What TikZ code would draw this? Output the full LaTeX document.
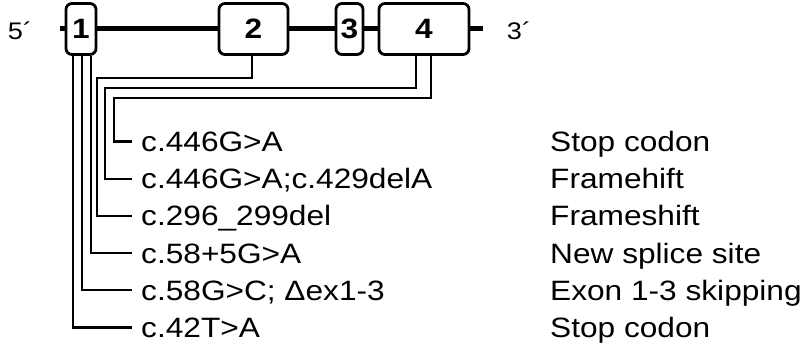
\documentclass[tikz,border=0pt]{standalone}
\usepackage{fontspec}
\setmainfont[FakeStretch=1.13]{Liberation Sans}
\begin{document}
\begin{tikzpicture}[x=1pt,y=-1pt,
    exon/.style={draw,line width=2.8pt,rounded corners=6pt,minimum height=51pt,
      inner sep=0pt,font=\fontsize{28}{30}\selectfont\bfseries},
    backbone/.style={line width=5pt},
    lead/.style={line width=2.2pt},
    mut/.style={anchor=west,inner xsep=9pt,inner ysep=0pt,text height=20pt,text depth=0pt,
      font=\fontsize{28}{30}\selectfont},
    eff/.style={anchor=west,inner sep=0pt,text height=20pt,text depth=0pt,
      font=\fontsize{28}{30}\selectfont},
    prime/.style={font=\fontsize{24}{26}\selectfont}]
  \useasboundingbox (0,0) rectangle (808,344);
  % exons
  \node[exon,minimum width=30pt] (e1) at (81,29) {1};
  \node[exon,minimum width=69pt] (e2) at (253.5,29) {2};
  \node[exon,minimum width=27pt] (e3) at (349.5,29) {3};
  \node[exon,minimum width=90pt] (e4) at (424,29) {4};
  \node[prime] (p5) at (20,31) {5´};
  \node[prime] (p3) at (519,31) {3´};
  % backbone
  \coordinate (s5) at (60,29);
  \coordinate (s3) at (483,29);
  \draw[backbone] (s5) -- (e1.west);
  \draw[backbone] (e1.east) -- (e2.west);
  \draw[backbone] (e2.east) -- (e3.west);
  \draw[backbone] (e3.east) -- (e4.west);
  \draw[backbone] (e4.east) -- (s3);
  % mutations and effects
  \foreach \i/\m/\f in {1/c.446G>A/Stop codon,
                        2/c.446G>A;c.429delA/Framehift,
                        3/c.296\_299del/Frameshift,
                        4/c.58+5G>A/New splice site,
                        5/c.58G>C; Δex1-3/Exon 1-3 skipping,
                        6/c.42T>A/Stop codon}{
    \node[mut] (m\i) at (132,{141.5+37.2*(\i-1)}) {\m};
    \node[eff] (f\i) at (550,{141.5+37.2*(\i-1)}) {\f};
  }
  % leads from the exons
  \coordinate (t1) at (431,0 |- e4.south);
  \coordinate (t2) at (416,0 |- e4.south);
  \coordinate (t3) at (252,0 |- e2.south);
  \coordinate (t4) at (91,0 |- e1.south);
  \coordinate (t5) at (82,0 |- e1.south);
  \coordinate (t6) at (73,0 |- e1.south);
  \draw[lead] (t1) |- (114,98) |- (m1.west);
  \draw[lead] (t2) |- (105,88) |- (m2.west);
  \draw[lead] (t3) |- (97,78) |- (m3.west);
  \draw[lead] (t4) |- (m4.west);
  \draw[lead] (t5) |- (m5.west);
  \draw[lead] (t6) |- (m6.west);
\end{tikzpicture}
\end{document}
